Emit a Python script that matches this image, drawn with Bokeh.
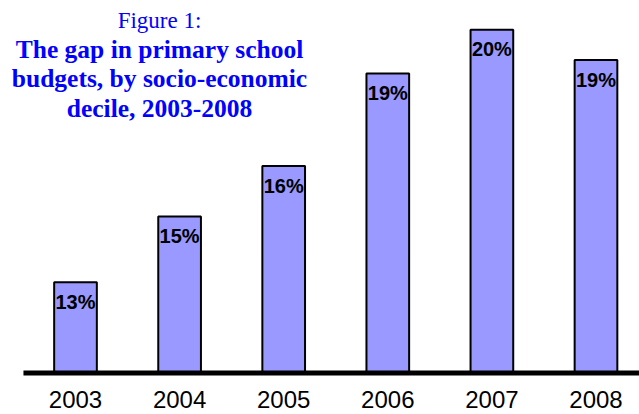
from bokeh.plotting import figure
from bokeh.models import Range1d, Label, ColumnDataSource, BoxAnnotation
from bokeh.embed import file_html
from bokeh.resources import INLINE
from bokeh.core.properties import value

# ---- data ----
years = ["2003", "2004", "2005", "2006", "2007", "2008"]
gap_pct = [12.7, 14.65, 16.15, 18.9, 20.2, 19.3]
gap_labels = ["13%", "15%", "16%", "19%", "20%", "19%"]
title_lines = ["Figure 1:", "The gap in primary school",
               "budgets, by socio-economic", "decile, 2003-2008"]

y_base = 10
x_pos = list(range(len(years)))
src = ColumnDataSource(dict(x=x_pos, top=gap_pct, label=gap_labels,
                            year=years, base=[y_base] * len(years)))

W, H = 639, 414
p = figure(width=W, height=H, output_backend="svg", toolbar_location=None,
           x_range=Range1d(-0.7205, 5.418), y_range=Range1d(8.767, 21.07),
           min_border=0, min_border_left=0, min_border_right=0,
           min_border_top=0, min_border_bottom=0)
p.xaxis.visible = False
p.yaxis.visible = False
p.xgrid.visible = False
p.ygrid.visible = False
p.outline_line_color = None

p.vbar(x="x", top="top", bottom="base", width=0.41, source=src,
       fill_color="#9999FF", line_color="black", line_width=2)

# thick baseline (category axis line)
p.add_layout(BoxAnnotation(left=-0.5, bottom=y_base - 0.074, top=y_base + 0.074,
                           fill_color="black", fill_alpha=1.0, line_color=None))

# value labels inside bars
p.text(x="x", y="top", text="label", source=src, text_align="center",
       text_baseline="top", y_offset=8.5, text_font=value("Liberation Sans"),
       text_font_style="bold", text_font_size="20px", text_color="black")

# category labels under the baseline
p.text(x="x", y="base", text="year", source=src, text_align="center",
       text_baseline="top", y_offset=18,
       text_font=value("Liberation Sans"), text_font_size="24px",
       text_color="black")

# title lines (screen units, y measured up from the bottom, top of text box)
title_top = [7.2, 34.3, 63.6, 93.0]
for i, (t, b) in enumerate(zip(title_lines, title_top)):
    p.add_layout(Label(x=159, y=H - b, x_units="screen", y_units="screen", text=t,
                       text_align="center", text_baseline="top",
                       text_font="Liberation Serif",
                       text_font_size="23px" if i == 0 else "25.5px",
                       text_font_style="normal" if i == 0 else "bold",
                       text_color="#0000FF"))

open("out.html", "w").write(file_html(p, INLINE))
